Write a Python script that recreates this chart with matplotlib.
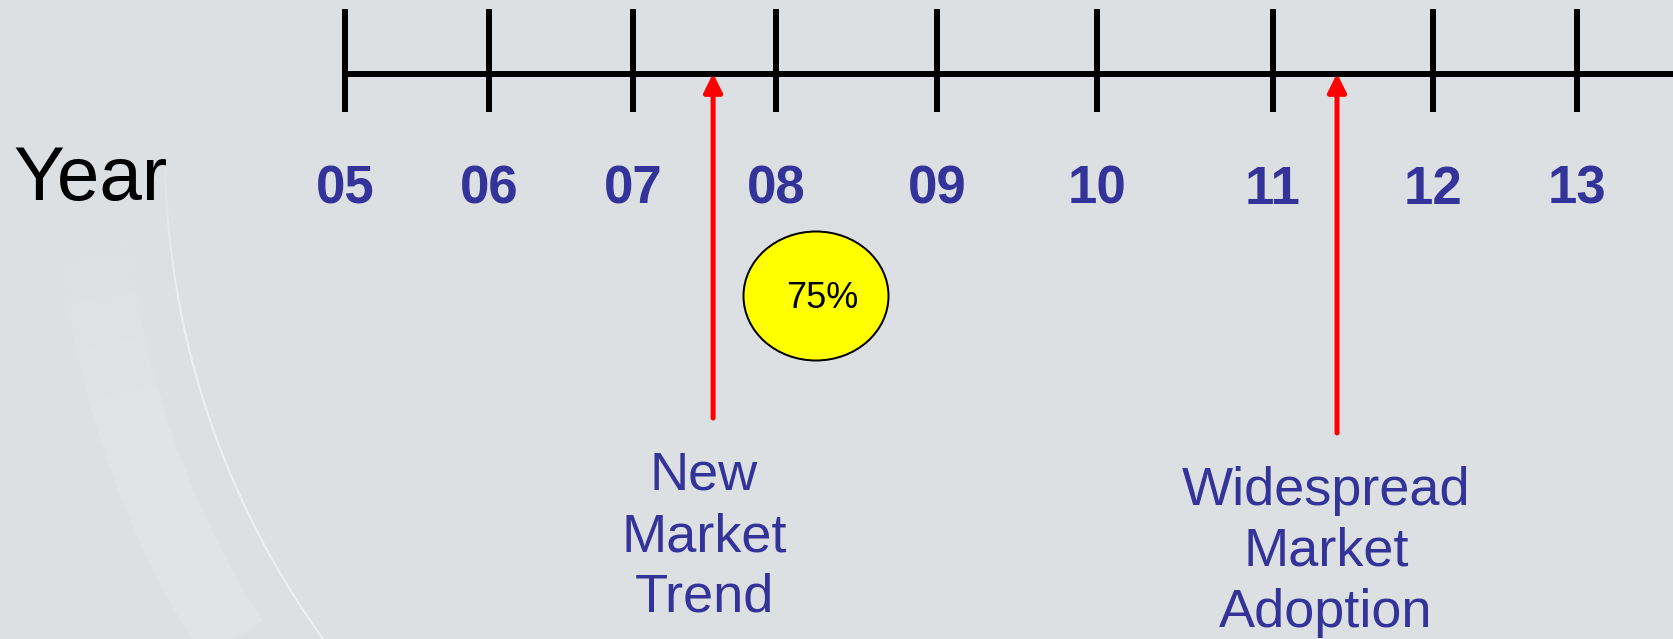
import numpy as np
import matplotlib
matplotlib.use("Agg")
import matplotlib.pyplot as plt
from matplotlib.patches import Ellipse
from matplotlib.collections import LineCollection

# ---- data ----
year_labels = ["05", "06", "07", "08", "09", "10", "11", "12", "13"]
years = [2005, 2006, 2007, 2008, 2009, 2010, 2011, 2012, 2013]
milestone_years = [2007.56, 2011.40]
milestone_texts = [["New", "Market", "Trend"], ["Widespread", "Market", "Adoption"]]
bubble_text = "75%"
axis_title = "Year"

# ---- layout (pixel coordinates) ----
W, H = 1673, 639
tick_x = [345, 489, 633, 776, 937, 1097, 1273, 1433, 1577]
line_y = 73.5
tick_top, tick_bot = 9, 112
label_base = 204
arrow_bottoms = [418, 433]
text_centers = [704, 1326]
text_first_base = [490, 505]
line_step = 61

bg = "#dde0e3"
blue = "#333399"
font = "Liberation Sans"

fig = plt.figure(figsize=(W / 100, H / 100), dpi=100)
fig.patch.set_facecolor(bg)
ax = fig.add_axes([0, 0, 1, 1])
ax.set_xlim(0, W)
ax.set_ylim(H, 0)
ax.axis("off")
ax.set_facecolor(bg)

def px(p):
    return p * 72 / 100

def faded_arc(R, t0, t1, lw, amax, fade_frac=0.35, n=160):
    t = np.radians(np.linspace(t0, t1, n))
    x = cx + R * np.cos(t)
    y = cy + R * np.sin(t)
    pts = np.column_stack([x, y])
    segs = np.stack([pts[:-1], pts[1:]], axis=1)
    s = np.linspace(0, 1, n - 1)
    a = np.clip((1 - s) / fade_frac, 0, 1) * amax  # fades toward t1 (top)
    a = np.minimum(a, np.clip(s / 0.08, 0, 1) * amax + 0.0)
    cols = np.zeros((n - 1, 4))
    cols[:, :3] = 1.0
    cols[:, 3] = a
    lc = LineCollection(segs, colors=cols, linewidths=px(lw), capstyle="butt",
                        zorder=0)
    ax.add_collection(lc)

# faint decorative background swirl
cx, cy = 1000, 150
faded_arc(910, 138, 177, 70, 0.13)
faded_arc(835, 140, 181, 2, 0.55, fade_frac=0.3)

# timeline
ax.plot([tick_x[0], W], [line_y, line_y], color="black", lw=px(6),
        solid_capstyle="butt", zorder=2)
for x in tick_x:
    ax.plot([x, x], [tick_top, tick_bot], color="black", lw=px(6),
            solid_capstyle="butt", zorder=2)

for x, lab in zip(tick_x, year_labels):
    ax.text(x, label_base, lab, ha="center", va="baseline", color=blue,
            fontsize=38, fontweight="bold", family=font)

ax.text(13, 200, axis_title, ha="left", va="baseline", color="black",
        fontsize=55, family=font)

# milestones
for yr, yb, tc, tb, lines in zip(milestone_years, arrow_bottoms, text_centers,
                                 text_first_base, milestone_texts):
    xm = np.interp(yr, years, tick_x)
    ax.annotate("", xy=(xm, line_y), xytext=(xm, yb),
                arrowprops=dict(arrowstyle="-|>,head_length=1.1,head_width=0.55",
                                color="red", lw=px(5), mutation_scale=10,
                                shrinkA=0, shrinkB=0), zorder=3)
    for i, s in enumerate(lines):
        ax.text(tc, tb + i * line_step, s, ha="center", va="baseline",
                color=blue, fontsize=39, family=font)

# bubble
ell = Ellipse((816, 296), 145, 129, facecolor="#ffff00", edgecolor="black",
              lw=px(2), zorder=3)
ax.add_patch(ell)
ax.text(822, 298, bubble_text, ha="center", va="center", color="black",
        fontsize=26, family=font, zorder=4)

fig.savefig("out.png", dpi=100, facecolor=bg)
